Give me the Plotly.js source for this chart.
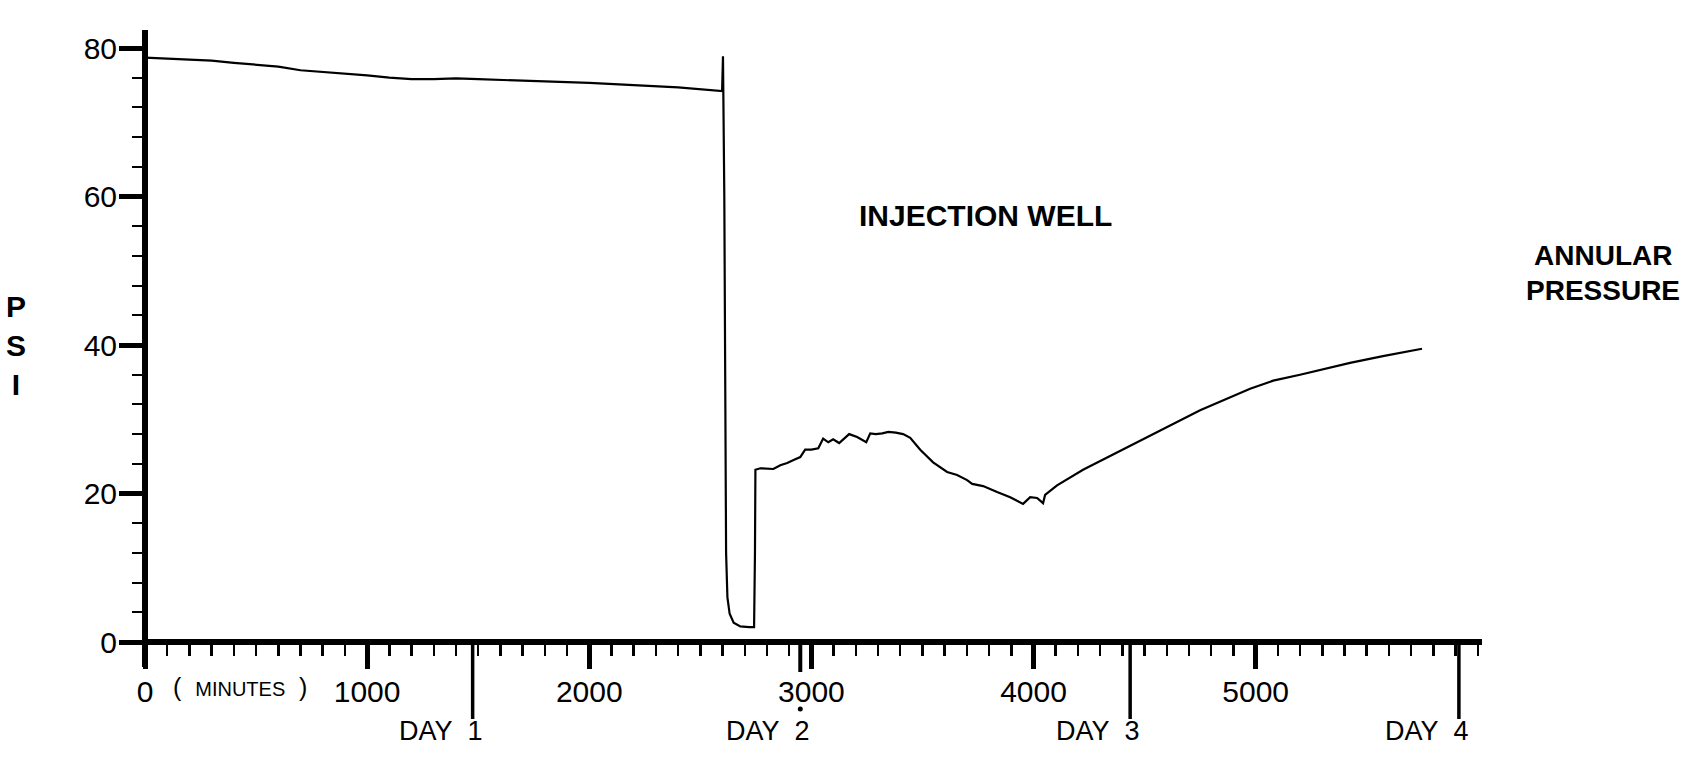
<!DOCTYPE html>
<html><head><meta charset="utf-8">
<script src="https://cdn.plot.ly/plotly-3.0.1.min.js"></script>
<style>html,body{margin:0;padding:0;background:#fff;} #chart{width:1695px;height:762px;}</style>
</head><body><div id="chart"></div>
<script>
// ---- data (minutes vs PSI) ----
const minutes = [0,100,200,300,400,500,600,700,800,900,1000,1100,1200,1300,1400,1500,1600,1800,2000,2200,2400,2598,
  2602,2608,2612,2616,2622,2632,2650,2680,2720,2742,2746,2748,2770,2800,2829,2860,2891,2920,2950,2972,3000,3031,3053,3076,3098,3125,3150,3170,3206,3247,3265,3290,3319,3346,3380,3413,3445,3490,3548,3611,3656,3701,3724,3773,3836,3895,3953,3985,4016,4043,4052,4106,4223,4376,4515,4750,4975,5079,5200,5425,5573,5749];
const psi = [78.7,78.6,78.5,78.3,78.0,77.7,77.5,77.0,76.8,76.6,76.3,76.0,75.8,75.8,75.9,75.8,75.7,75.5,75.3,75.0,74.7,74.2,
  78.9,60,30,12,6,3.8,2.6,2.1,2.0,2.0,12,23.2,23.4,23.3,23.3,23.8,24.1,24.5,24.9,25.9,25.9,26.1,27.4,26.9,27.3,26.8,27.5,28.0,27.6,26.9,28.1,28.0,28.1,28.3,28.2,28.0,27.5,25.9,24.2,22.9,22.5,21.8,21.3,21.0,20.2,19.5,18.6,19.5,19.4,18.7,19.8,21.1,23.2,25.5,27.6,31.2,34.1,35.2,36.0,37.6,38.5,39.5];

const xTickVals = [0,1000,2000,3000,4000,5000];
const xTickText = ['0','1000','2000','3000','4000','5000'];
const yTickVals = [0,20,40,60,80];
const yTickText = ['0','20','40','60','80'];
const dayMinutes = [1475,2950,4435,5915];
const dayLabels = ['DAY&nbsp;&nbsp;1','DAY&nbsp;&nbsp;2','DAY&nbsp;&nbsp;3','DAY&nbsp;&nbsp;4'];
const dayLong = [true,false,true,true];
const chartLabel = 'INJECTION WELL';
const sideLabel = ['ANNULAR','PRESSURE'];
const yLabel = 'P<br>S<br>I';
const unitLabel = '(&nbsp;&nbsp;<span style="font-size:20px">MINUTES</span>&nbsp;&nbsp;)';

// ---- layout geometry ----
const W = 1695, H = 762;
const M = {l:145, r:215, t:48, b:120};
const plotW = W - M.l - M.r, plotH = H - M.t - M.b;
const px2py = p => -p / plotH;   // pixels below the x axis -> paper y
const px2pxX = p => p / plotW;   // pixels -> paper x

const font = 'Liberation Sans, Arial, Helvetica, sans-serif';

const shapes = [];
// axis lines (extend beyond the plot like the original)
shapes.push({type:'line', xref:'paper', yref:'paper', x0:0, x1:0, y0:px2py(25), y1:1+18/plotH, line:{color:'#000', width:6}});
shapes.push({type:'line', xref:'paper', yref:'paper', x0:0, x1:1+px2pxX(2), y0:0, y1:0, line:{color:'#000', width:6}});
// day markers
dayMinutes.forEach((d,i)=>{
  shapes.push({type:'line', xref:'x', yref:'paper', x0:d, x1:d, y0:0, y1:px2py(dayLong[i]?77:30), line:{color:'#000', width:dayLong[i]?3.5:4}});
  if(!dayLong[i]){
    shapes.push({type:'circle', xref:'x', yref:'paper', xsizemode:'pixel', ysizemode:'pixel', xanchor:d, yanchor:px2py(67), x0:-2.5, x1:2.5, y0:-2.5, y1:2.5, fillcolor:'#000', line:{width:0}});
  }
});

const annotations = [];
dayMinutes.forEach((d,i)=>{
  annotations.push({text:dayLabels[i], xref:'x', yref:'paper', x:d, xshift:12, y:px2py(89), xanchor:'right', yanchor:'middle', showarrow:false, font:{family:font, size:27, color:'#000'}});
});
annotations.push({text:unitLabel, xref:'paper', yref:'paper', x:px2pxX(95), y:px2py(45), xanchor:'center', yanchor:'middle', showarrow:false, font:{family:font, size:25, color:'#000'}});
annotations.push({text:yLabel, xref:'paper', yref:'paper', x:px2pxX(-129), y:0.5, xanchor:'center', yanchor:'middle', showarrow:false, font:{family:font, size:30, color:'#000', weight:'bold'}});
annotations.push({text:chartLabel, xref:'x', yref:'y', x:3782, y:57.4, xanchor:'center', yanchor:'middle', showarrow:false, font:{family:font, size:30, color:'#000', weight:'bold'}});
annotations.push({text:sideLabel[0], xref:'paper', yref:'paper', x:1+px2pxX(1603-1480), y:(642-256)/plotH, xanchor:'center', yanchor:'middle', showarrow:false, font:{family:font, size:28, color:'#000', weight:'bold'}});
annotations.push({text:sideLabel[1], xref:'paper', yref:'paper', x:1+px2pxX(1603-1480), y:(642-290)/plotH, xanchor:'center', yanchor:'middle', showarrow:false, font:{family:font, size:28, color:'#000', weight:'bold'}});

const trace = {x:minutes, y:psi, type:'scatter', mode:'lines', line:{color:'#000', width:2.2}, hoverinfo:'skip', cliponaxis:false};

const layout = {
  width:W, height:H,
  margin:{l:M.l, r:M.r, t:M.t, b:M.b, pad:0},
  paper_bgcolor:'#fff', plot_bgcolor:'#fff',
  showlegend:false,
  font:{family:font, color:'#000', size:30},
  xaxis:{range:[0,6010], tickmode:'array', tickvals:xTickVals, ticktext:xTickText,
    ticks:'outside', ticklen:26, tickwidth:5, tickcolor:'#000', ticklabelstandoff:-3,
    showline:false, showgrid:false, zeroline:false, fixedrange:true,
    tickfont:{family:font, size:30, color:'#000'},
    minor:{tickmode:'linear', tick0:0, dtick:100, ticks:'outside', ticklen:13, tickwidth:2.5, tickcolor:'#000', showgrid:false}},
  yaxis:{range:[0,80], tickmode:'array', tickvals:yTickVals, ticktext:yTickText,
    ticks:'outside', ticklen:25, tickwidth:5, tickcolor:'#000', ticklabelstandoff:-4,
    showline:false, showgrid:false, zeroline:false, fixedrange:true,
    tickfont:{family:font, size:30, color:'#000'},
    minor:{tickmode:'linear', tick0:0, dtick:4, ticks:'outside', ticklen:12, tickwidth:2, tickcolor:'#000', showgrid:false}},
  shapes:shapes,
  annotations:annotations,
  hovermode:false
};

Plotly.newPlot('chart', [trace], layout, {displayModeBar:false, staticPlot:true});
</script>
</body></html>
